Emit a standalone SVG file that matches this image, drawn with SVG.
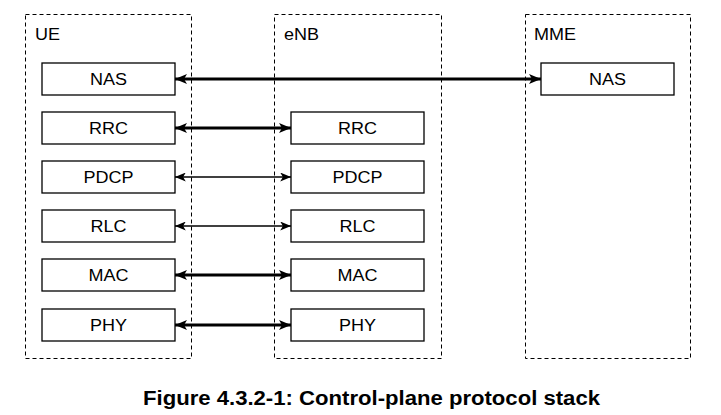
<svg xmlns="http://www.w3.org/2000/svg" width="721" height="415" viewBox="0 0 721 415">
<style>
.cont{fill:none;stroke:#000;stroke-width:1;stroke-dasharray:4,3}
.box{fill:#fff;stroke:#000;stroke-width:1.3}
.t{font-family:"Liberation Sans",Arial,sans-serif;font-size:16px;fill:#000}
.c{text-anchor:middle}
.thick{stroke:#000;stroke-width:3;fill:none}
.thin{stroke:#000;stroke-width:1.5;fill:none}
.cap{font-family:"Liberation Sans",Arial,sans-serif;font-size:20px;font-weight:bold;text-anchor:middle}
</style>
<defs>
<marker id="ah" markerUnits="userSpaceOnUse" viewBox="0 0 12 10" refX="12" refY="5" markerWidth="12" markerHeight="10" orient="auto-start-reverse">
<path d="M0,0 L12,5 L0,10 L3,5 Z" fill="#000"/>
</marker>
<marker id="ahs" markerUnits="userSpaceOnUse" viewBox="0 0 12 10" refX="12" refY="5" markerWidth="11" markerHeight="9" orient="auto-start-reverse">
<path d="M0,0 L12,5 L0,10 L3,5 Z" fill="#000"/>
</marker>
</defs>
<g id="ue">
<rect class="cont" x="25.5" y="14.5" width="166" height="344"/>
<text class="t" x="35" y="40" textLength="25" lengthAdjust="spacingAndGlyphs">UE</text>
</g>
<g id="enb">
<rect class="cont" x="274.5" y="14.5" width="167" height="344"/>
<text class="t" x="284" y="40" textLength="35" lengthAdjust="spacingAndGlyphs">eNB</text>
</g>
<g id="mme">
<rect class="cont" x="525.5" y="14.5" width="165" height="344"/>
<text class="t" x="534" y="40" textLength="42" lengthAdjust="spacingAndGlyphs">MME</text>
</g>
<g id="ue-nas"><rect class="box" x="42" y="63" width="133" height="32"/><text class="t c" x="108.5" y="85" textLength="37" lengthAdjust="spacingAndGlyphs">NAS</text></g>
<g id="ue-rrc"><rect class="box" x="42" y="112" width="133" height="32"/><text class="t c" x="108.5" y="134" textLength="39" lengthAdjust="spacingAndGlyphs">RRC</text></g>
<g id="ue-pdcp"><rect class="box" x="42" y="161" width="133" height="32"/><text class="t c" x="108.5" y="183" textLength="50" lengthAdjust="spacingAndGlyphs">PDCP</text></g>
<g id="ue-rlc"><rect class="box" x="42" y="210" width="133" height="32"/><text class="t c" x="108.5" y="232" textLength="36" lengthAdjust="spacingAndGlyphs">RLC</text></g>
<g id="ue-mac"><rect class="box" x="42" y="259" width="133" height="32"/><text class="t c" x="108.5" y="281" textLength="40" lengthAdjust="spacingAndGlyphs">MAC</text></g>
<g id="ue-phy"><rect class="box" x="42" y="309" width="133" height="32"/><text class="t c" x="108.5" y="331" textLength="37" lengthAdjust="spacingAndGlyphs">PHY</text></g>
<g id="enb-rrc"><rect class="box" x="291" y="112" width="133" height="32"/><text class="t c" x="357.5" y="134" textLength="39" lengthAdjust="spacingAndGlyphs">RRC</text></g>
<g id="enb-pdcp"><rect class="box" x="291" y="161" width="133" height="32"/><text class="t c" x="357.5" y="183" textLength="50" lengthAdjust="spacingAndGlyphs">PDCP</text></g>
<g id="enb-rlc"><rect class="box" x="291" y="210" width="133" height="32"/><text class="t c" x="357.5" y="232" textLength="36" lengthAdjust="spacingAndGlyphs">RLC</text></g>
<g id="enb-mac"><rect class="box" x="291" y="259" width="133" height="32"/><text class="t c" x="357.5" y="281" textLength="40" lengthAdjust="spacingAndGlyphs">MAC</text></g>
<g id="enb-phy"><rect class="box" x="291" y="309" width="133" height="32"/><text class="t c" x="357.5" y="331" textLength="37" lengthAdjust="spacingAndGlyphs">PHY</text></g>
<g id="mme-nas"><rect class="box" x="541" y="63" width="133" height="32"/><text class="t c" x="607.5" y="85" textLength="37" lengthAdjust="spacingAndGlyphs">NAS</text></g>
<g id="connectors">
<line class="thick" x1="175" y1="79" x2="541" y2="79" marker-start="url(#ah)" marker-end="url(#ah)"/>
<line class="thick" x1="175" y1="128" x2="291" y2="128" marker-start="url(#ah)" marker-end="url(#ah)"/>
<line class="thin" x1="175" y1="177" x2="291" y2="177" marker-start="url(#ahs)" marker-end="url(#ahs)"/>
<line class="thin" x1="175" y1="226" x2="291" y2="226" marker-start="url(#ahs)" marker-end="url(#ahs)"/>
<line class="thick" x1="175" y1="275" x2="291" y2="275" marker-start="url(#ah)" marker-end="url(#ah)"/>
<line class="thick" x1="175" y1="325" x2="291" y2="325" marker-start="url(#ah)" marker-end="url(#ah)"/>
</g>
<text class="cap" x="371.5" y="405" textLength="457" lengthAdjust="spacingAndGlyphs">Figure 4.3.2-1: Control-plane protocol stack</text>
</svg>
